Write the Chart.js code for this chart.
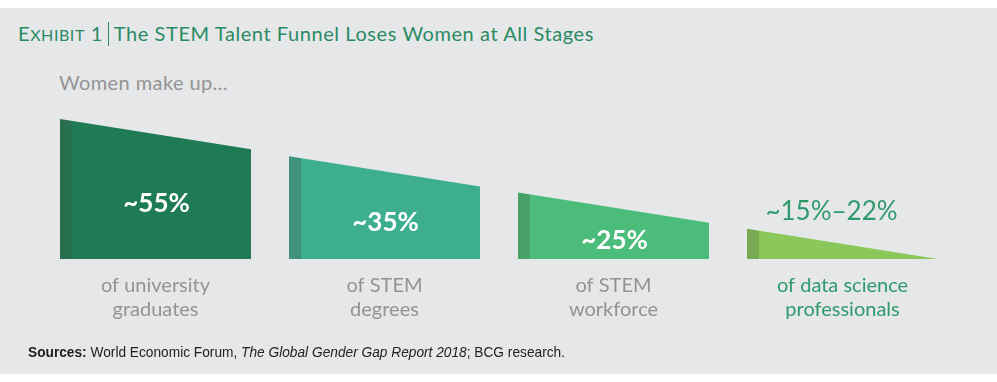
<!DOCTYPE html>
<html>
<head>
<meta charset="utf-8">
<script src="https://cdn.jsdelivr.net/npm/chart.js@4/dist/chart.umd.min.js"></script>
<style>
  html, body { margin:0; padding:0; background:#ffffff; }
  #wrap { position:relative; width:997px; height:382px; overflow:hidden; }
  #panel { position:absolute; left:0; top:8px; width:997px; height:366px; background:#e6e7e9; }
  #c { position:absolute; left:0; top:0; }
  .t { position:absolute; white-space:nowrap; transform-origin:0 50%; line-height:1; }
  #title { left:18px; top:22px; font-family:Lato, "Open Sans", sans-serif; font-size:20px; color:#2a8b63; }
  #title .sm { font-size:0.8em; }
  #title .bar { display:inline-block; width:1px; height:24px; background:#2a8b63; vertical-align:-5px; margin:0 5px 0 5px; }
  #sub { left:59px; top:72px; font-family:Lato, "Open Sans", sans-serif; font-size:20px; color:#939393; }
  #src { left:28px; top:344px; font-family:"Liberation Sans", Arial, sans-serif; font-size:15px; color:#222; }
</style>
</head>
<body>
<div id="wrap">
  <div id="panel"></div>
  <div class="t" id="title">E<span class="sm">XHIBIT</span> 1<span class="bar"></span>The STEM Talent Funnel Loses Women at All Stages</div>
  <div class="t" id="sub">Women make up...</div>
  <canvas id="c" width="997" height="382"></canvas>
  <div class="t" id="src"><b>Sources:</b> World Economic Forum, <i>The Global Gender Gap Report 2018</i>; BCG research.</div>
</div>
<script>
// ---- data ----
const categories = [
  ['of university', 'graduates'],
  ['of STEM', 'degrees'],
  ['of STEM', 'workforce'],
  ['of data science', 'professionals']
];
const valueLabels = ['~55%', '~35%', '~25%', '~15%–22%'];
const leftHeights  = [139, 102, 66, 30];
const rightHeights = [109, 72, 36, 0];

// ---- styles ----
const mainColors  = ['#1e7b56', '#3daf8f', '#4cbc7b', '#8bc85b'];
const stripColors = ['#286f50', '#3f927b', '#48a268', '#78a953'];
const SHAPE_W = 0.834;     // width of each funnel block in stage units
const STRIP_FRAC = 12 / 191;
const FONT = 'Lato, "Open Sans", sans-serif';
const GRAY = '#939393';
const GREEN = '#2e9a6c';

// fit texts to the reference widths
function fitSpacing(id, w) {
  const el = document.getElementById(id);
  const cur = el.getBoundingClientRect().width;
  const n = el.textContent.length;
  el.style.letterSpacing = ((w - cur) / n) + 'px';
}
function fitScale(id, w) {
  const el = document.getElementById(id);
  const cur = el.getBoundingClientRect().width;
  el.style.transform = 'scaleX(' + (w / cur) + ')';
}
fitSpacing('title', 576);
fitSpacing('sub', 169);
fitScale('src', 537);

const datasets = categories.map((c, i) => ({
  label: valueLabels[i],
  data: [{x: i, y: leftHeights[i]}, {x: i + SHAPE_W, y: rightHeights[i]}],
  fill: 'origin',
  tension: 0,
  borderWidth: 0,
  borderColor: 'rgba(0,0,0,0)',
  pointRadius: 0,
  pointHoverRadius: 0,
  backgroundColor: (ctx) => {
    const chart = ctx.chart;
    const area = chart.chartArea;
    if (!area) return mainColors[i];
    const xs = chart.scales.x;
    const x0 = xs.getPixelForValue(i), x1 = xs.getPixelForValue(i + SHAPE_W);
    const g = chart.ctx.createLinearGradient(x0, 0, x1, 0);
    g.addColorStop(0, stripColors[i]);
    g.addColorStop(STRIP_FRAC, stripColors[i]);
    g.addColorStop(STRIP_FRAC + 0.0001, mainColors[i]);
    g.addColorStop(1, mainColors[i]);
    return g;
  }
}));

const valueLabelPlugin = {
  id: 'valueLabels',
  afterDatasetsDraw(chart) {
    const {ctx} = chart;
    const xs = chart.scales.x, ys = chart.scales.y;
    ctx.save();
    ctx.textAlign = 'center';
    ctx.textBaseline = 'middle';
    valueLabels.forEach((lab, i) => {
      const cx = xs.getPixelForValue(i + SHAPE_W / 2);
      if (rightHeights[i] > 0) {
        const topMid = ys.getPixelForValue((leftHeights[i] + rightHeights[i]) / 2);
        const bot = ys.getPixelForValue(0);
        ctx.font = 'bold 26px ' + FONT;
        ctx.fillStyle = '#ffffff';
        ctx.fillText(lab, cx + 1, (topMid + bot) / 2 + 7);
      } else {
        ctx.font = '26px ' + FONT;
        ctx.fillStyle = GREEN;
        ctx.fillText(lab, cx - 11, ys.getPixelForValue(leftHeights[i]) - 17);
      }
    });
    ctx.restore();
  }
};

new Chart(document.getElementById('c'), {
  type: 'line',
  data: { datasets },
  plugins: [valueLabelPlugin],
  options: {
    responsive: false,
    animation: false,
    events: [],
    layout: { padding: { left: 60, right: 59, top: 118, bottom: 45 } },
    plugins: { legend: { display: false }, tooltip: { enabled: false }, title: { display: false } },
    scales: {
      x: {
        type: 'linear',
        min: 0,
        max: 3 + SHAPE_W,
        grid: { display: false, drawTicks: false },
        border: { display: false },
        afterBuildTicks: (s) => { s.ticks = categories.map((c, i) => ({ value: i + SHAPE_W / 2 })); },
        ticks: {
          autoSkip: false,
          maxRotation: 0,
          padding: 15,
          font: { family: FONT, size: 20, lineHeight: 1.2 },
          color: (ctx) => ctx.index === 3 ? GREEN : GRAY,
          callback: (v, idx) => categories[idx]
        }
      },
      y: { display: false, min: 0, max: 140 }
    }
  }
});
</script>
</body>
</html>
